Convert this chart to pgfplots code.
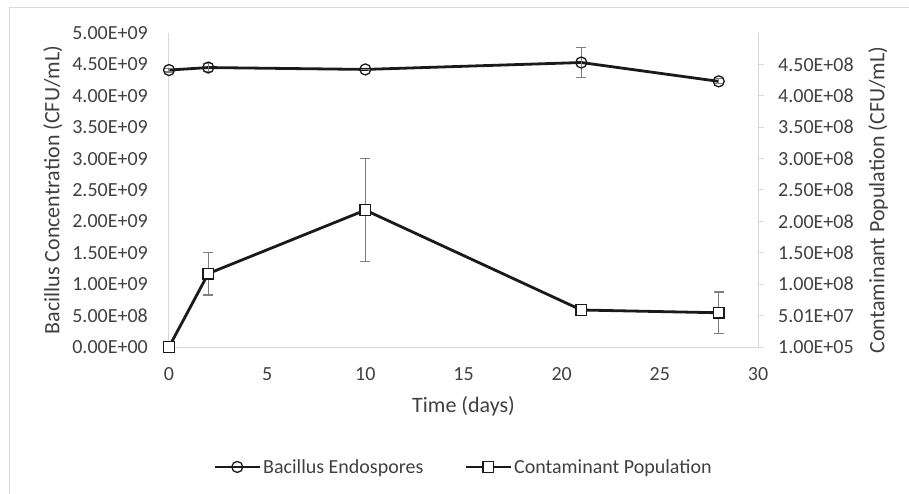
\documentclass[border=0pt]{standalone}
\usepackage{fontspec}
\setmainfont{Carlito}
\usepackage{pgfplots}
\pgfplotsset{compat=1.18}
\definecolor{txt}{HTML}{404040}
\definecolor{axgray}{HTML}{D9D9D9}
\definecolor{errgray}{HTML}{7F7F7F}
\definecolor{ln}{HTML}{1A1A1A}
\begin{document}
\begin{tikzpicture}
\pgfplotsset{
  base/.style={
    scale only axis, width=589bp, height=314bp,
    xmin=0, xmax=30,
    scaled y ticks=false, scaled x ticks=false,
    font=\fontsize{20bp}{24bp}\selectfont,
    every tick label/.append style={text=txt, inner sep=0pt},
    axis line style={axgray, line width=1bp},
    label style={font=\fontsize{22bp}{26bp}\selectfont, text=txt},
    clip=false,
  },
  ser/.style={ln, line width=2.8bp, mark options={solid, fill=white, draw=ln, line width=1.3bp}},
  eb/.style={error bars/.cd, y dir=both, y explicit,
    error bar style={errgray, line width=1.2bp},
    error mark options={rotate=90, mark size=5bp, line width=1.2bp, errgray}},
}
\begin{axis}[base,
  axis x line*=bottom, axis y line*=left,
  ymin=0, ymax=5e9,
  xtick={0,5,10,15,20,25,30}, xticklabels={0,5,10,15,20,25,30},
  ytick={0,5e8,1e9,1.5e9,2e9,2.5e9,3e9,3.5e9,4e9,4.5e9,5e9},
  yticklabels={0.00E+00,5.00E+08,1.00E+09,1.50E+09,2.00E+09,2.50E+09,3.00E+09,3.50E+09,4.00E+09,4.50E+09,5.00E+09},
  major tick length=0pt,
  xticklabel shift=20bp, yticklabel shift=21bp,
  xlabel={Time (days)},
  xlabel style={at={(axis description cs:0.5,-0.188)}, anchor=center},
  ylabel={Bacillus Concentration (CFU/mL)},
  ylabel style={at={(axis description cs:-0.197,0.5)}, anchor=center},
  legend columns=2,
  legend style={at={(axis description cs:0.5,-0.382)}, anchor=center, draw=none, fill=none,
    font=\fontsize{20bp}{24bp}\selectfont, text=txt,
    /tikz/every even column/.append style={column sep=39bp}},
  legend image code/.code={\draw[#1, mark repeat=2, mark phase=2] plot coordinates {(0bp,0bp)(22.5bp,0bp)(45bp,0bp)};},
]
\addplot[ser, mark=o, mark size=5.5bp, eb] table[x=x, y=y, y error=e] {
x y e
0 4.41e9 0.03e9
2 4.45e9 0.06e9
10 4.42e9 0
21 4.53e9 0.24e9
28 4.23e9 0.04e9
};
\addlegendentry{Bacillus Endospores}
\addlegendimage{ln, line width=2.8bp, mark=square*, mark size=5.3bp, mark options={solid, fill=white, draw=ln, line width=1.3bp}}
\addlegendentry{Contaminant Population}
\end{axis}
\begin{axis}[base,
  axis y line*=right, axis x line=none,
  ymin=1e5, ymax=5e8,
  xtick=\empty,
  ytick={1e5,5.01e7,1.001e8,1.501e8,2.001e8,2.501e8,3.001e8,3.501e8,4.001e8,4.501e8},
  yticklabels={1.00E+05,5.01E+07,1.00E+08,1.50E+08,2.00E+08,2.50E+08,3.00E+08,3.50E+08,4.00E+08,4.50E+08},
  tick align=outside, major tick length=6bp,
  tick style={axgray, line width=1bp},
  yticklabel shift=14bp,
  ylabel={Contaminant Population (CFU/mL)},
  ylabel style={at={(axis description cs:1.2037,0.468)}, anchor=center},
]
\addplot[ser, mark=square*, mark size=5.3bp, eb] table[x=x, y=y, y error=e] {
x y e
0 1e5 0
2 1.17e8 0.34e8
10 2.18e8 0.82e8
21 0.59e8 0.05e8
28 0.546e8 0.33e8
};
\end{axis}
\draw[axgray, line width=1bp] (-159bp,-147bp) -- (-159bp,339bp) -- (740bp,339bp);
\pgfresetboundingbox
\useasboundingbox (-169bp,-147bp) rectangle (740bp,347bp);
\end{tikzpicture}
\end{document}
